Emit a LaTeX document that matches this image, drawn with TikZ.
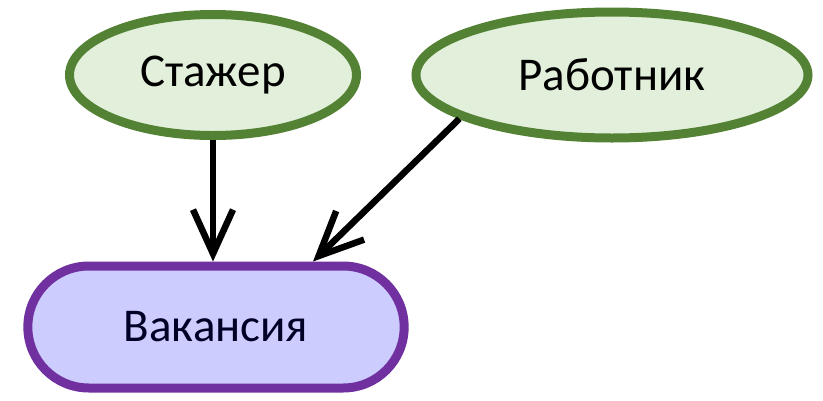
\documentclass[tikz,border=0pt]{standalone}
\usepackage{fontspec}
\setmainfont{Carlito}
\usetikzlibrary{shapes.geometric,shapes.misc,arrows.meta,calc}

\definecolor{roleline}{RGB}{84,130,53}
\definecolor{rolefill}{RGB}{226,239,218}
\definecolor{jobline}{RGB}{112,48,160}
\definecolor{jobfill}{RGB}{204,204,255}

\begin{document}
\begin{tikzpicture}
[
  x=1pt,
  y=-1pt,
	role/.style={ellipse,draw=roleline,fill=rolefill,line width=9pt,font=\fontsize{47}{54}\selectfont},
	job/.style={rounded rectangle,draw=jobline,fill=jobfill,line width=9pt,font=\fontsize{47}{54}\selectfont,text=black!85!blue},
	link/.style={line width=6.5pt,-{Straight Barb[length=44pt,width=40pt]}}
]

\useasboundingbox (0,0) rectangle (823,400);

\node[role,minimum width=287,minimum height=121](stazher) at (213,75) {Стажер};
\node[role,minimum width=392,minimum height=126](rabotnik) at (612,75) {Работник};
\node[job,minimum width=383,minimum height=122](vakansiya) at (216,327) {Вакансия};

\coordinate (entry) at ($(vakansiya.north)+(97,0)$);

\draw[link] (stazher.south) -- (stazher.south |- vakansiya.north);
\draw[link] (rabotnik.196) -- (entry);

\end{tikzpicture}
\end{document}
